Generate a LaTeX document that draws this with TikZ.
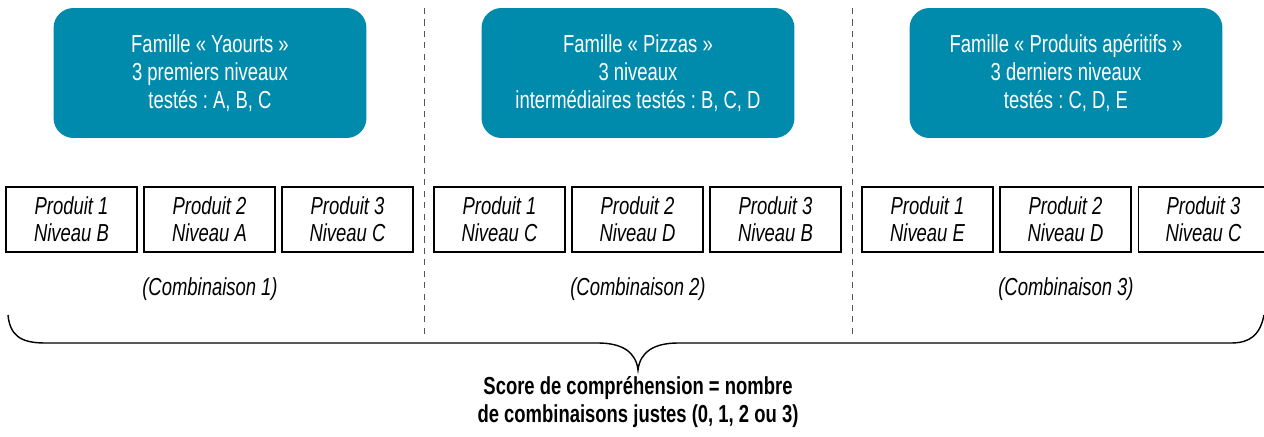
\documentclass[tikz,border=0pt]{standalone}
\usepackage{fontspec}
\setmainfont{Liberation Sans}[FakeStretch=0.75]
\frenchspacing
\definecolor{bleufam}{HTML}{008AAB}
\definecolor{gristrait}{HTML}{555555}
\tikzset{
  famille/.style={fill=bleufam, rounded corners=0.4cm, minimum width=6.26cm,
    minimum height=2.6cm, text=white, align=center, inner sep=0pt,
    font=\fontsize{14}{16}\selectfont},
  produit/.style={draw, line width=0.6pt, minimum width=2.62cm, minimum height=1.3cm,
    align=center, inner sep=0pt, font=\fontsize{14}{15.5}\selectfont\itshape},
  combi/.style={font=\fontsize{14}{15.5}\selectfont\itshape},
  separ/.style={gristrait, line width=0.5pt, dash pattern=on 3.5pt off 3pt},
}
\begin{document}
\begin{tikzpicture}[x=0.02cm,y=-0.02cm]
  \useasboundingbox (0,0) rectangle (1264,436);
  % familles
  \draw
    (210,73) node[famille] (f1) {Famille « Yaourts »\\3 premiers niveaux\\testés : A, B, C}
    (638,73) node[famille] (f2) {Famille « Pizzas »\\3 niveaux\\intermédiaires testés : B, C, D}
    (1066,73) node[famille] (f3) {Famille « Produits apéritifs »\\3 derniers niveaux\\testés : C, D, E};
  % separations
  \coordinate (s1h) at (424,8);
  \coordinate (s1b) at (424,336);
  \coordinate (s2h) at (852,8);
  \coordinate (s2b) at (852,336);
  \draw[separ] (s1h) -- (s1b);
  \draw[separ] (s2h) -- (s2b);
  % produits
  \draw
    (71.5,219.5) node[produit] (p11) {Produit 1\\Niveau B}
    (209.5,219.5) node[produit] (p12) {Produit 2\\Niveau A}
    (347.5,219.5) node[produit] (p13) {Produit 3\\Niveau C}
    (499.5,219.5) node[produit] (p21) {Produit 1\\Niveau C}
    (637.5,219.5) node[produit] (p22) {Produit 2\\Niveau D}
    (775.5,219.5) node[produit] (p23) {Produit 3\\Niveau B}
    (927.5,219.5) node[produit] (p31) {Produit 1\\Niveau E}
    (1065.5,219.5) node[produit] (p32) {Produit 2\\Niveau D}
    (1203.5,219.5) node[produit] (p33) {Produit 3\\Niveau C};
  \draw
    (210,289) node[combi] (c1) {(Combinaison 1)}
    (638,289) node[combi] (c2) {(Combinaison 2)}
    (1066,289) node[combi] (c3) {(Combinaison 3)};
  % accolade
  \coordinate (ag) at (8,315);
  \coordinate (pointe) at (638,370);
  \coordinate (ad) at (1264,315);
  \draw[line width=0.8pt]
    (ag) .. controls (10,335) and (20,343) .. (45,343) -- (598,343)
    .. controls (622,343) and (636,352) .. (pointe)
    .. controls (640,352) and (654,343) .. (678,343) -- (1231,343)
    .. controls (1250,343) and (1260,335) .. (ad);
  \node[align=center, font=\fontsize{14}{15.5}\selectfont\bfseries] (score) at (638,402)
    {Score de compréhension = nombre\\de combinaisons justes (0, 1, 2 ou 3)};
\end{tikzpicture}
\end{document}
